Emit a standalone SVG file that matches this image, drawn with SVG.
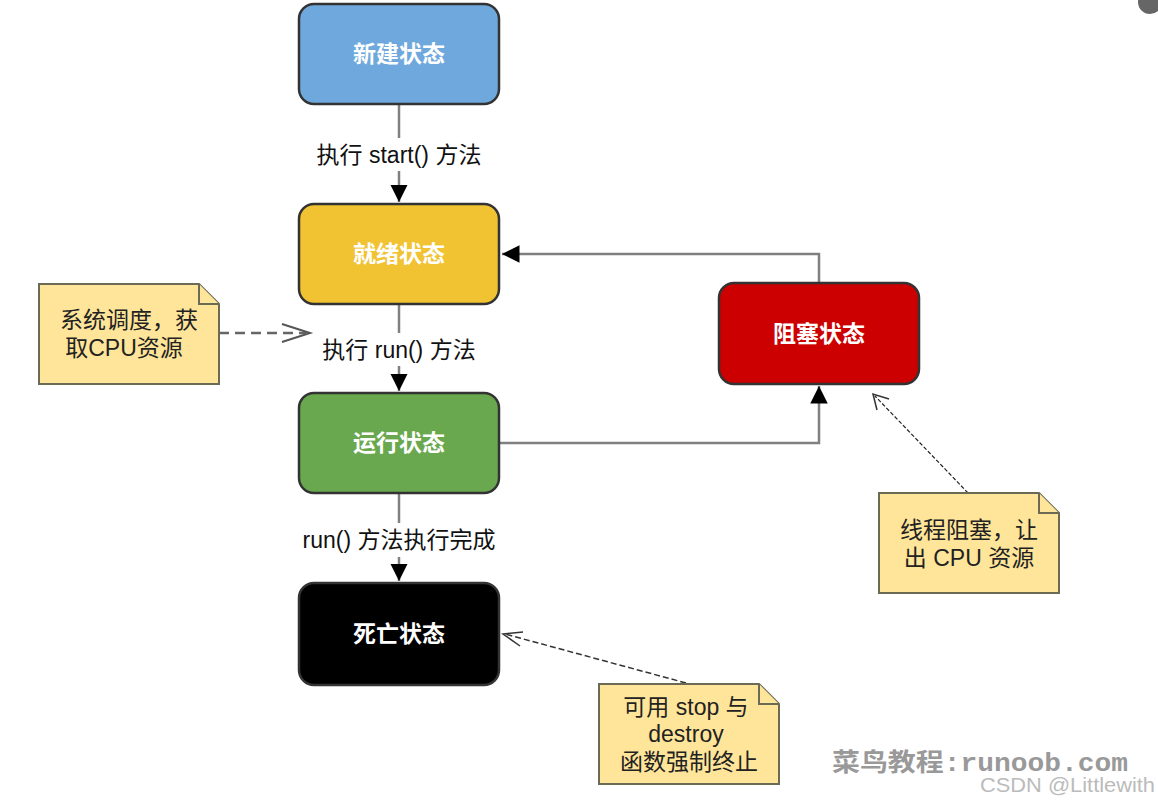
<svg xmlns="http://www.w3.org/2000/svg" width="1158" height="803" viewBox="0 0 1158 803">
<style>
.box{stroke:#333;stroke-width:2.5}
.bt{font-family:"Liberation Sans","Noto Sans CJK SC",sans-serif;font-size:23px;font-weight:bold;fill:#fff;text-anchor:middle}
.lbl{font-family:"Liberation Sans","Noto Sans CJK SC",sans-serif;font-size:23px;fill:#111;text-anchor:middle}
.note{fill:#ffe599;stroke:#6b6b55;stroke-width:2}
.nt{font-family:"Liberation Sans","Noto Sans CJK SC",sans-serif;font-size:23px;fill:#222;text-anchor:middle}
.con{fill:none;stroke:#808080;stroke-width:2.5}
.dash{fill:none;stroke:#666;stroke-width:2.5;stroke-dasharray:10,6}
.dot{fill:none;stroke:#222;stroke-width:1.2;stroke-dasharray:4,2}
</style>
<defs>
<marker id="ah" viewBox="0 0 10 10" refX="10" refY="5" markerWidth="7" markerHeight="7" markerUnits="strokeWidth" orient="auto"><path d="M0,0 L10,5 L0,10 Z" fill="#000"/></marker>
</defs>
<rect width="1158" height="803" fill="#fff"/>
<circle cx="1150" cy="2" r="12" fill="#666"/>
<g id="connectors">
<line class="con" x1="399" y1="104" x2="399" y2="138"/>
<line class="con" x1="399" y1="171" x2="399" y2="202" marker-end="url(#ah)"/>
<line class="con" x1="399" y1="304" x2="399" y2="333"/>
<line class="con" x1="399" y1="366" x2="399" y2="391" marker-end="url(#ah)"/>
<line class="con" x1="399" y1="493" x2="399" y2="523"/>
<line class="con" x1="399" y1="557" x2="399" y2="581" marker-end="url(#ah)"/>
<polyline class="con" points="499,443 819,443 819,386" marker-end="url(#ah)"/>
<polyline class="con" points="819,283 819,254 502,254" marker-end="url(#ah)"/>
<line class="dash" x1="219" y1="333" x2="306" y2="333"/>
<polyline fill="none" stroke="#555" stroke-width="2" points="282,324 310,333 282,342"/>
<line class="dot" x1="968" y1="493" x2="875" y2="396"/>
<polyline fill="none" stroke="#333" stroke-width="1.5" points="877,410 873,394 889,399"/>
<line style="fill:none;stroke-width:1.5;stroke:#333;stroke-dasharray:6,3" x1="686" y1="683" x2="505" y2="634"/>
<polyline fill="none" stroke="#333" stroke-width="1.5" points="520,646 503,634 523,632"/>
<text class="lbl" x="399" y="163">执行 start() 方法</text>
<text class="lbl" x="399" y="358">执行 run() 方法</text>
<text class="lbl" x="399" y="548">run() 方法执行完成</text>
</g>
<g id="new"><rect class="box" x="299" y="4" width="200" height="100" rx="15" fill="#6fa8dc"/><text class="bt" x="399" y="62">新建状态</text></g>
<g id="ready"><rect class="box" x="299" y="204" width="200" height="100" rx="15" fill="#f1c232"/><text class="bt" x="399" y="262">就绪状态</text></g>
<g id="running"><rect class="box" x="299" y="393" width="200" height="100" rx="15" fill="#6aa84f"/><text class="bt" x="399" y="451">运行状态</text></g>
<g id="blocked"><rect class="box" x="719" y="283" width="200" height="101" rx="15" fill="#cc0000"/><text class="bt" x="819" y="342">阻塞状态</text></g>
<g id="dead"><rect class="box" x="299" y="583" width="200" height="102" rx="15" fill="#000"/><text class="bt" x="399" y="642">死亡状态</text></g>
<g id="note1"><path class="note" d="M39,284 H199 L219,304 V384 H39 Z"/><path class="note" d="M199,284 V304 H219"/><text class="nt" x="129" y="328">系统调度，获</text><text class="nt" x="124" y="356">取CPU资源</text></g>
<g id="note2"><path class="note" d="M879,493 H1039 L1059,513 V593 H879 Z"/><path class="note" d="M1039,493 V513 H1059"/><text class="nt" x="969" y="538">线程阻塞，让</text><text class="nt" x="969" y="566">出 CPU 资源</text></g>
<g id="note3"><path class="note" d="M599,684 H759 L779,704 V784 H599 Z"/><path class="note" d="M759,684 V704 H779"/><text class="nt" x="686" y="715">可用 stop 与</text><text class="nt" x="686" y="742">destroy</text><text class="nt" x="689" y="770">函数强制终止</text></g>
<text x="832" y="771" font-family="'Liberation Mono','Noto Sans CJK SC',monospace" font-size="25" font-weight="bold" fill="#999" textLength="296" lengthAdjust="spacingAndGlyphs">菜鸟教程:runoob.com</text>
<text x="1155" y="792" font-family="'Liberation Sans',sans-serif" font-size="20" fill="#bbb" text-anchor="end" textLength="175" lengthAdjust="spacingAndGlyphs">CSDN @Littlewith</text>
</svg>
